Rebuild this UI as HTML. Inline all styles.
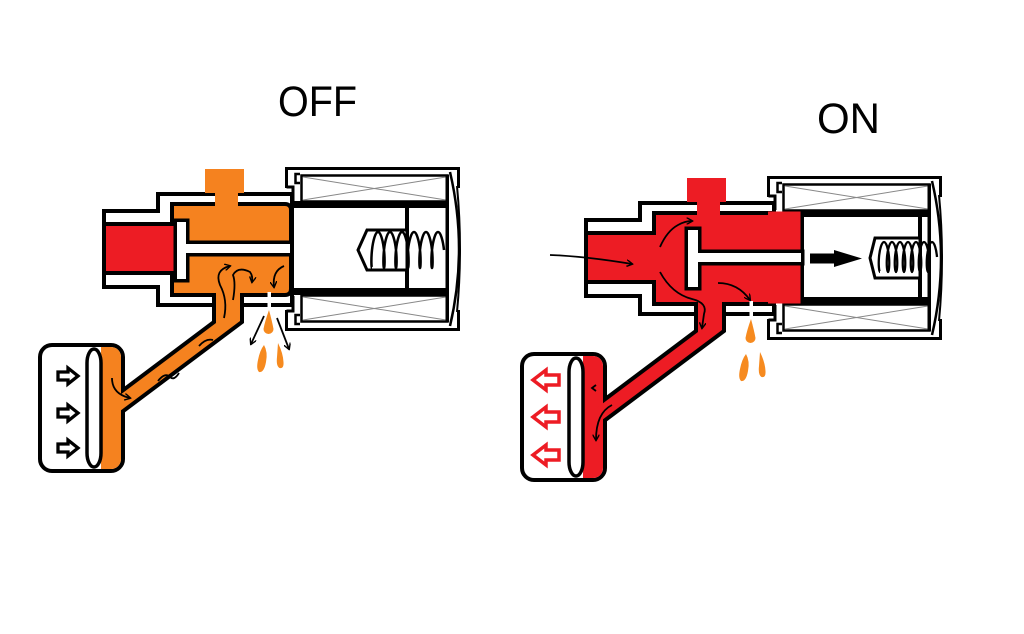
<!DOCTYPE html>
<html>
<head>
<meta charset="utf-8">
<style>
  html,body{margin:0;padding:0;background:#fff;}
  svg{display:block;}
</style>
</head>
<body>
<svg width="1024" height="634" viewBox="0 0 1024 634" xmlns="http://www.w3.org/2000/svg">
  <defs>
    <marker id="ah" viewBox="0 0 10 10" refX="8" refY="5" markerWidth="7" markerHeight="7" orient="auto" markerUnits="userSpaceOnUse">
      <path d="M0,0 L9,5 L0,10" fill="none" stroke="#000" stroke-width="2"/>
    </marker>
  </defs>
  <rect width="1024" height="634" fill="#fff"/>

  <!-- Titles -->
  <text x="278" y="116" font-family="Liberation Sans, sans-serif" font-size="43" textLength="79" lengthAdjust="spacingAndGlyphs" fill="#000">OFF</text>
  <text x="817" y="133" font-family="Liberation Sans, sans-serif" font-size="43" textLength="63" lengthAdjust="spacingAndGlyphs" fill="#000">ON</text>

  <!-- ================= OFF ================= -->
  <g id="off">
    <path d="M106,213 H160 V196 H290 V303 H160 V285 H106 Z" fill="#fff" stroke="#000" stroke-width="8"/>
    <path d="M106,213 H160 V196 H290 V303 H160 V285 H106 Z" fill="#fff"/>
    <g fill="none" stroke="#000" stroke-width="8">
      <path d="M106,226 H174 V206 H285 Q289,206 289,210 V289 Q289,293 285,293 H174 V271 H106 Z"/>
      <path d="M216,288 H240 V321 L112,417 V401 L216,323 Z"/>
      <rect x="42" y="347" width="79" height="122" rx="10"/>
    </g>
    <rect x="42" y="347" width="79" height="122" rx="10" fill="#fff"/>
    <path d="M101,347 H111 A10,10 0 0 1 121,357 V459 A10,10 0 0 1 111,469 H101 Z" fill="#F5821F"/>
    <path d="M216,288 H240 V321 L112,417 V401 L216,323 Z" fill="#F5821F"/>
    <path d="M106,226 H174 V206 H285 Q289,206 289,210 V289 Q289,293 285,293 H174 V271 H106 Z" fill="#F5821F"/>
    <rect x="106" y="226" width="68" height="45" fill="#ED1C24"/>
    <rect x="87" y="349" width="14" height="118" rx="7" ry="14" fill="#fff" stroke="#000" stroke-width="3.5"/>
    <g fill="#fff" stroke="#000" stroke-width="3.3">
      <path d="M58,372 H68 V368 L78,376 L68,384 V380 H58 Z"/>
      <path d="M58,409 H68 V405 L78,413 L68,421 V417 H58 Z"/>
      <path d="M58,444 H68 V440 L78,448 L68,456 V452 H58 Z"/>
    </g>
    <rect x="205" y="169" width="39" height="24" fill="#F5821F"/>
    <rect x="215" y="190" width="23" height="18" fill="#F5821F"/>
    <g fill="#000" stroke="#000" stroke-width="7">
      <rect x="177" y="222" width="9" height="57"/>
      <rect x="186" y="244" width="106" height="9"/>
    </g>
    <g fill="#fff">
      <rect x="177" y="222" width="9" height="57"/>
      <rect x="185" y="244" width="107" height="9"/>
    </g>
    <rect x="267.5" y="292" width="3.5" height="16" fill="#fff"/>

    <!-- solenoid -->
    <rect x="301.5" y="175.5" width="146" height="26" fill="#fff" stroke="#000" stroke-width="2.5"/>
    <path d="M303,177 L446,200 M303,200 L446,177" stroke="#888" stroke-width="1"/>
    <rect x="301.5" y="295.5" width="146" height="26" fill="#fff" stroke="#000" stroke-width="2.5"/>
    <path d="M303,297 L446,320 M303,320 L446,297" stroke="#888" stroke-width="1"/>
    <rect x="291" y="201" width="157" height="7" fill="#000"/>
    <rect x="291" y="288" width="157" height="7" fill="#000"/>
    <rect x="294" y="208" width="152" height="80" fill="#fff"/>
    <rect x="290" y="201" width="4" height="94" fill="#000"/>
    <rect x="405" y="208" width="4" height="80" fill="#000"/>
    <rect x="445.5" y="175" width="3.5" height="147" fill="#000"/>
    <path d="M286.5,188 V168.5 H458.5 V188 M458.5,310 V329.5 H286.5 V310" fill="none" stroke="#000" stroke-width="3"/>
    <path d="M450,172 Q468,249 450,326" fill="none" stroke="#000" stroke-width="2.5"/>
    <path d="M457,186 Q463,249 457,312" fill="none" stroke="#000" stroke-width="2"/>
    <path d="M286.5,187 H293 V201 M286.5,311 H293 V296" fill="none" stroke="#000" stroke-width="3"/>
    <path d="M300,174 H295.5 V183 H300 M300,324 H295.5 V315 H300" fill="none" stroke="#000" stroke-width="2.5"/>
    <polygon points="358,250 367,230 407,230 407,270 367,270" fill="#fff" stroke="#000" stroke-width="3"/>
    <path d="M372,268 c-0.57,0 -1,-8.58 0,-18 c1,-9.42 3.43,-18 6,-18 c2.57,0 5,8.58 6,18 c1,9.42 0.57,18 0,18 c-0.57,0 -1,-8.58 0,-18 c1,-9.42 3.43,-18 6,-18 c2.57,0 5,8.58 6,18 c1,9.42 0.57,18 0,18 c-0.57,0 -1,-8.58 0,-18 c1,-9.42 3.43,-18 6,-18 c2.57,0 5,8.58 6,18 c1,9.42 0.57,18 0,18 c-0.57,0 -1,-8.58 0,-18 c1,-9.42 3.43,-18 6,-18 c2.57,0 5,8.58 6,18 c1,9.42 0.57,18 0,18 c-0.57,0 -1,-8.58 0,-18 c1,-9.42 3.43,-18 6,-18 c2.57,0 5,8.58 6,18 c1,9.42 0.57,18 0,18 c-0.57,0 -1,-8.58 0,-18 c1,-9.42 3.43,-18 6,-18 c2.57,0 5,8.58 6,18" fill="none" stroke="#000" stroke-width="2.5"/>

    <g fill="#F68A1F">
      <path d="M269,310 Q272,321 273.5,329 A5,5 0 1 1 263.5,329 Q265,321 269,310 Z"/>
      <path d="M264,345 Q268,352 266,362 Q264,373 259,372 Q256,369 258,360 Q260,350 264,345 Z"/>
      <path d="M278,343 Q283,353 283.5,362 Q284,369 279.5,368 Q276,366 277,357 Z"/>
    </g>
    <g fill="none" stroke="#000" stroke-width="1.8" marker-end="url(#ah)">
      <path d="M224,318 Q228,300 220,285 Q214,270 230,266"/>
      <path d="M233,300 Q236,283 233,275 Q238,266 250,272 Q253,276 252,282"/>
      <path d="M284,266 Q272,271 274,287"/>
      <path d="M264,316 L251,344"/>
      <path d="M277,318 L289,349"/>
      <path d="M112,378 Q112,394 130,398"/>
    </g>
    <g fill="none" stroke="#000" stroke-width="1.8">
      <path d="M199,346 Q206,338 213,340"/>
      <path d="M158,381 Q165,372 170,377 Q174,381 179,373"/>
    </g>
  </g>

  <!-- ================= ON ================= -->
  <g id="on" transform="translate(482,9)">
    <path d="M106,213 H160 V196 H290 V303 H160 V285 H106 Z" fill="#fff" stroke="#000" stroke-width="8"/>
    <path d="M106,213 H160 V196 H290 V303 H160 V285 H106 Z" fill="#fff"/>
    <g fill="none" stroke="#000" stroke-width="8">
      <path d="M106,226 H174 V206 H289 V293 H174 V271 H106 Z"/>
      <path d="M216,288 H240 V321 L112,417 V401 L216,323 Z"/>
      <rect x="42" y="347" width="79" height="122" rx="10"/>
    </g>
    <rect x="42" y="347" width="79" height="122" rx="10" fill="#fff"/>
    <path d="M101,347 H111 A10,10 0 0 1 121,357 V459 A10,10 0 0 1 111,469 H101 Z" fill="#ED1C24"/>
    <path d="M216,288 H240 V321 L112,417 V401 L216,323 Z" fill="#ED1C24"/>
    <path d="M106,226 H174 V206 H289 V293 H174 V271 H106 Z" fill="#ED1C24"/>
    <rect x="87" y="349" width="14" height="118" rx="7" ry="14" fill="#fff" stroke="#000" stroke-width="3.5"/>
    <g fill="#fff" stroke="#ED1C24" stroke-width="3.5">
      <path d="M77,366 H64 V361 L51,371 L64,381 V376 H77 Z"/>
      <path d="M77,403 H64 V398 L51,408 L64,418 V413 H77 Z"/>
      <path d="M77,441 H64 V436 L51,446 L64,456 V451 H77 Z"/>
    </g>
    <rect x="205" y="169" width="39" height="24" fill="#ED1C24"/>
    <rect x="215" y="190" width="23" height="18" fill="#ED1C24"/>
    <rect x="267.5" y="292" width="3.5" height="16" fill="#fff"/>

    <rect x="301.5" y="175.5" width="146" height="26" fill="#fff" stroke="#000" stroke-width="2.5"/>
    <path d="M303,177 L446,200 M303,200 L446,177" stroke="#888" stroke-width="1"/>
    <rect x="301.5" y="295.5" width="146" height="26" fill="#fff" stroke="#000" stroke-width="2.5"/>
    <path d="M303,297 L446,320 M303,320 L446,297" stroke="#888" stroke-width="1"/>
    <rect x="286" y="202.5" width="35" height="92" fill="#ED1C24"/>
    <rect x="320" y="201" width="128" height="7" fill="#000"/>
    <rect x="320" y="288" width="128" height="7" fill="#000"/>
    <rect x="321" y="208" width="125" height="80" fill="#fff"/>
    <rect x="318.5" y="201" width="3.5" height="94" fill="#000"/>
    <rect x="436" y="208" width="4" height="80" fill="#000"/>
    <rect x="445.5" y="175" width="3.5" height="147" fill="#000"/>
    <path d="M286.5,188 V168.5 H458.5 V188 M458.5,310 V329.5 H286.5 V310" fill="none" stroke="#000" stroke-width="3"/>
    <path d="M450,172 Q468,249 450,326" fill="none" stroke="#000" stroke-width="2.5"/>
    <path d="M457,186 Q463,249 457,312" fill="none" stroke="#000" stroke-width="2"/>
    <path d="M286.5,187 H293 V201 M286.5,311 H293 V296" fill="none" stroke="#000" stroke-width="3"/>
    <path d="M300,174 H295.5 V183 H300 M300,324 H295.5 V315 H300" fill="none" stroke="#000" stroke-width="2.5"/>

    <g fill="#000" stroke="#000" stroke-width="7">
      <rect x="206" y="221" width="10" height="57"/>
      <rect x="216" y="244" width="103" height="9"/>
    </g>
    <g fill="#fff">
      <rect x="206" y="221" width="10" height="57"/>
      <rect x="215" y="244" width="104" height="9"/>
    </g>

    <path d="M328,244.5 H352 V241 L380,249.5 L352,258 V254.5 H328 Z" fill="#000"/>
    <polygon points="388,249 393,229 438,229 438,269 393,269" fill="#fff" stroke="#000" stroke-width="3"/>
    <path d="M398,263 c-0.91,0 -1.67,-7.15 -1,-15 c0.67,-7.85 2.76,-15 5,-15 c2.24,0 4.33,7.15 5,15 c0.67,7.85 -0.09,15 -1,15 c-0.91,0 -1.67,-7.15 -1,-15 c0.67,-7.85 2.76,-15 5,-15 c2.24,0 4.33,7.15 5,15 c0.67,7.85 -0.09,15 -1,15 c-0.91,0 -1.67,-7.15 -1,-15 c0.67,-7.85 2.76,-15 5,-15 c2.24,0 4.33,7.15 5,15 c0.67,7.85 -0.09,15 -1,15 c-0.91,0 -1.67,-7.15 -1,-15 c0.67,-7.85 2.76,-15 5,-15 c2.24,0 4.33,7.15 5,15 c0.67,7.85 -0.09,15 -1,15 c-0.91,0 -1.67,-7.15 -1,-15 c0.67,-7.85 2.76,-15 5,-15 c2.24,0 4.33,7.15 5,15 c0.67,7.85 -0.09,15 -1,15 c-0.91,0 -1.67,-7.15 -1,-15 c0.67,-7.85 2.76,-15 5,-15 c2.24,0 4.33,7.15 5,15 c0.67,7.85 -0.09,15 -1,15 c-0.91,0 -1.67,-7.15 -1,-15 c0.67,-7.85 2.76,-15 5,-15 c2.24,0 4.33,7.15 5,15" fill="none" stroke="#000" stroke-width="2.3"/>

    <g fill="#F68A1F">
      <path d="M269,310 Q272,321 273.5,329 A5,5 0 1 1 263.5,329 Q265,321 269,310 Z"/>
      <path d="M264,345 Q268,352 266,362 Q264,373 259,372 Q256,369 258,360 Q260,350 264,345 Z"/>
      <path d="M278,343 Q283,353 283.5,362 Q284,369 279.5,368 Q276,366 277,357 Z"/>
    </g>
    <g fill="none" stroke="#000" stroke-width="1.8" marker-end="url(#ah)">
      <path d="M68,246 C95,247 120,250 150,255"/>
      <path d="M178,238 Q185,222 196,216 Q203,212 210,212"/>
      <path d="M178,263 Q190,285 210,290 Q226,294 222,305 L220,319"/>
      <path d="M236,274 Q256,274 268,291"/>
      <path d="M130,396 Q114,404 114,431"/>
    </g>
    <path d="M114,376 L110,379 L114,382" fill="none" stroke="#000" stroke-width="1.8"/>
  </g>
</svg>
</body>
</html>
